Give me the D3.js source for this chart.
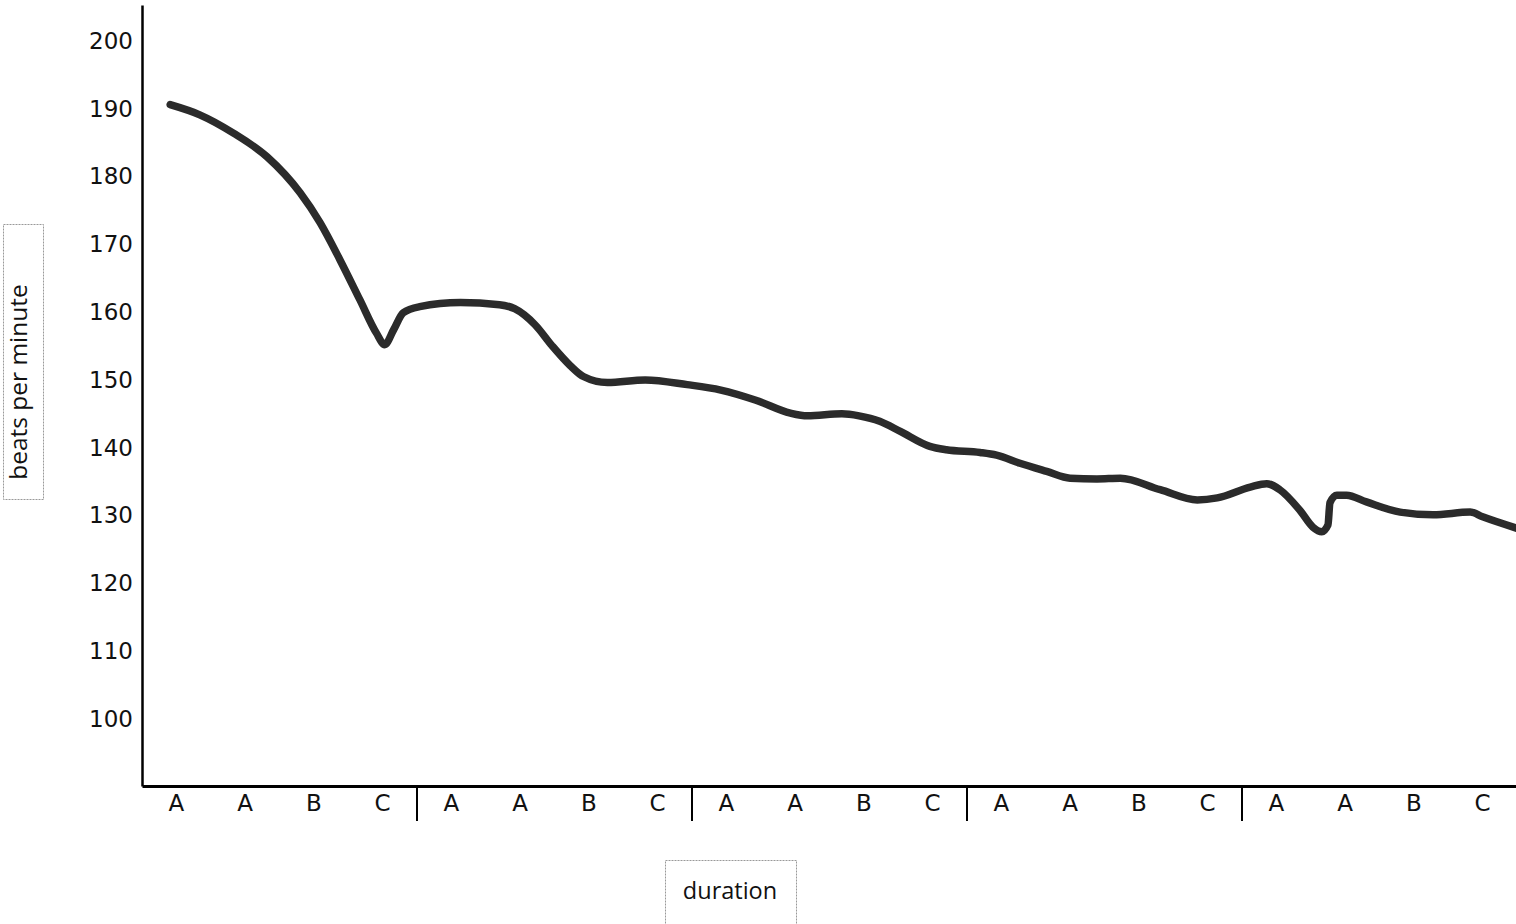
<!DOCTYPE html>
<html>
<head>
<meta charset="utf-8">
<script src="https://cdn.jsdelivr.net/npm/d3@7"></script>
<style>
  body { margin: 0; background: #fff; }
  #canvas { width: 1516px; height: 924px; }
</style>
</head>
<body>
<div id="canvas" class="canvas"></div>
<script>
// data
var slotLabels = ['A','A','B','C','A','A','B','C','A','A','B','C','A','A','B','C','A','A','B','C'];
var yTicks = [100,110,120,130,140,150,160,170,180,190,200];
var groupBreaks = [4, 8, 12, 16];

// position along the duration axis (in slots) and beats per minute
var durationPos = [0.41,0.84,1.33,1.82,2.3,2.59,2.88,3.17,3.41,3.53,3.66,3.8,4.04,4.63,5.2,
  5.42,5.72,5.96,6.23,6.42,6.77,7.32,7.93,8.42,8.93,9.43,9.68,10.18,10.43,10.73,11.03,11.46,11.7,
  12.19,12.43,12.77,13.16,13.5,13.89,14.23,14.81,15.35,15.64,16.12,16.36,16.55,16.84,17.03,17.16,17.25,
  17.28,17.38,17.52,17.81,18.3,18.78,19.32,19.5,20];
var bpm = [190.6,189.1,186.4,182.9,177.6,173.2,167.7,161.8,156.9,155.2,157.4,159.9,160.8,161.4,161.1,
  160.5,158.1,155.1,152.1,150.5,149.6,150.0,149.3,148.5,147.0,145.1,144.7,145.0,144.7,143.9,142.4,140.2,139.7,
  139.3,138.9,137.7,136.5,135.5,135.4,135.5,133.8,132.3,132.6,134.2,134.7,133.8,130.8,128.3,127.6,128.6,
  131.9,133.0,133.0,132.0,130.5,130.1,130.5,129.8,128.1];

var series = durationPos.map(function(d, i) { return {pos: d, bpm: bpm[i]}; });

var m = {t:5, r:0, b:138, l:142},
    w = 1516 - m.l - m.r,
    h = 924 - m.t - m.b;

var svg = d3.select('.canvas').append('svg')
    .attr('width', 1516)
    .attr('height', 924);

var plot = svg.append('g')
    .attr('transform', 'translate(' + m.l + ',' + m.t + ')');

var scaleX = d3.scaleLinear().domain([0, 20]).range([0, w + 1]);
var scaleBand = d3.scaleBand().domain(d3.range(20)).range([0, w + 1]);
var scaleY = d3.scaleLinear().domain([90.1, 205.3]).range([h, 0]);

// y axis
var yAxis = d3.axisLeft(scaleY).tickValues(yTicks).tickSize(0).tickPadding(9);
var gy = plot.append('g').call(yAxis);
gy.select('.domain').attr('stroke', '#000').attr('stroke-width', 2.5);
gy.selectAll('text').attr('font-family', 'DejaVu Sans').attr('font-size', 23).attr('fill', '#111');

// x axis
var xAxis = d3.axisBottom(scaleBand).tickSize(0).tickPadding(9)
    .tickFormat(function(i) { return slotLabels[i]; });
var gx = plot.append('g').attr('transform', 'translate(0,' + h + ')').call(xAxis);
gx.select('.domain').attr('stroke', '#000').attr('stroke-width', 3);
gx.selectAll('text').attr('font-family', 'DejaVu Sans').attr('font-size', 23).attr('fill', '#111');

// group separators
plot.selectAll('line.sep').data(groupBreaks).enter()
  .append('line')
  .attr('class', 'sep')
  .attr('x1', function(d) { return scaleX(d); })
  .attr('x2', function(d) { return scaleX(d); })
  .attr('y1', h)
  .attr('y2', h + 35)
  .attr('stroke', '#000')
  .attr('stroke-width', 2);

// the line
var line = d3.line()
    .x(function(d) { return scaleX(d.pos); })
    .y(function(d) { return scaleY(d.bpm); })
    .curve(d3.curveMonotoneX);

plot.append('path')
  .datum(series)
  .attr('d', line)
  .attr('fill', 'none')
  .attr('stroke', '#2b2b2b')
  .attr('stroke-width', 7.5)
  .attr('stroke-linecap', 'round')
  .attr('stroke-linejoin', 'round');

// axis title boxes
svg.append('rect')
  .attr('x', 3.5).attr('y', 224.5).attr('width', 40).attr('height', 275)
  .attr('fill', 'none').attr('stroke', '#999').attr('stroke-width', 1)
  .attr('stroke-dasharray', '2,1');
svg.append('text')
  .attr('transform', 'translate(27,382) rotate(-90)')
  .attr('text-anchor', 'middle')
  .attr('font-family', 'Open Sans')
  .attr('font-size', 24.5)
  .attr('fill', '#111')
  .text('beats per minute');

svg.append('rect')
  .attr('x', 665.5).attr('y', 860.5).attr('width', 131).attr('height', 70)
  .attr('fill', 'none').attr('stroke', '#999').attr('stroke-width', 1)
  .attr('stroke-dasharray', '2,1');
svg.append('text')
  .attr('x', 730).attr('y', 899)
  .attr('text-anchor', 'middle')
  .attr('font-family', 'Open Sans')
  .attr('font-size', 23.5)
  .attr('fill', '#111')
  .text('duration');
</script>
</body>
</html>
